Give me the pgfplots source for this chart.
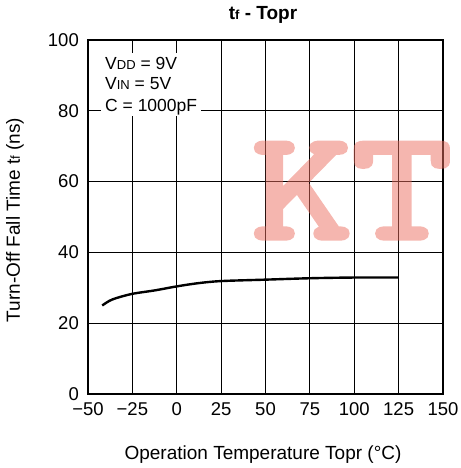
\documentclass[border=0pt]{standalone}
\usepackage{fontspec}
\setmainfont{Liberation Sans}
\newfontfamily\wmfont[FakeBold=3.5]{Latin Modern Mono}
\usepackage{pgfplots}
\pgfplotsset{compat=1.18}
\definecolor{wm}{RGB}{235,110,95}
\begin{document}
\begin{tikzpicture}[x=1pt,y=1pt]
\path[use as bounding box] (0,0) rectangle (460,468);
\begin{axis}[
  at={(88pt,74pt)}, anchor=south west,
  scale only axis, width=355pt, height=354pt,
  xmin=-50, xmax=150, ymin=0, ymax=100,
  xtick={-50,-25,0,25,50,75,100,125,150},
  xticklabels={−50,−25,0,25,50,75,100,125,150},
  ytick={0,20,40,60,80,100},
  yticklabels={0,20,40,60,80,100},
  major tick length=0pt,
  grid=major,
  major grid style={black, line width=0.9pt},
  axis line style={black, line width=2.6pt},
  ticklabel style={font=\fontsize{18.5}{18.5}\selectfont, inner sep=0pt},
  xticklabel style={anchor=north, yshift=-8.5pt},
  yticklabel style={anchor=east, xshift=-9pt},
]
\addplot[black, line width=2.4pt, smooth, tension=0.5] coordinates {
  (-42,25.0) (-38,26.3) (-34,27.1) (-25,28.3) (-12,29.3) (0,30.4)
  (12,31.3) (25,31.9) (50,32.3) (75,32.7) (100,32.9) (125,32.9)
};
\end{axis}
% legend text box
\fill[white] (101,352) rectangle (201,415);
\node[anchor=base west, inner sep=0pt, font=\fontsize{17.5}{17.5}\selectfont] at (105,398.7) {V{\fontsize{13}{13}\selectfont DD} = 9V};
\node[anchor=base west, inner sep=0pt, font=\fontsize{17.5}{17.5}\selectfont] at (105,378) {V{\fontsize{13}{13}\selectfont IN} = 5V};
\node[anchor=base west, inner sep=0pt, font=\fontsize{17.5}{17.5}\selectfont] at (105,356.3) {C = 1000pF};
% title and labels
\node[font=\fontsize{19}{19}\selectfont\bfseries] at (263,453) {t{\fontsize{13}{13}\selectfont f} - Topr};
\node[font=\fontsize{19}{19}\selectfont] at (263,13) {Operation Temperature Topr (°C)};
\node[font=\fontsize{19}{19}\selectfont, rotate=90] at (15,248) {Turn-Off Fall Time t{\fontsize{13}{13}\selectfont f} (ns)};
% watermark
\begin{scope}[transparency group, opacity=0.5]
\node[anchor=base west, inner sep=0pt, text=wm, xscale=1.25, font=\wmfont\fontsize{155}{155}\selectfont] at (252,230) {KT};
\end{scope}
\end{tikzpicture}
\end{document}
